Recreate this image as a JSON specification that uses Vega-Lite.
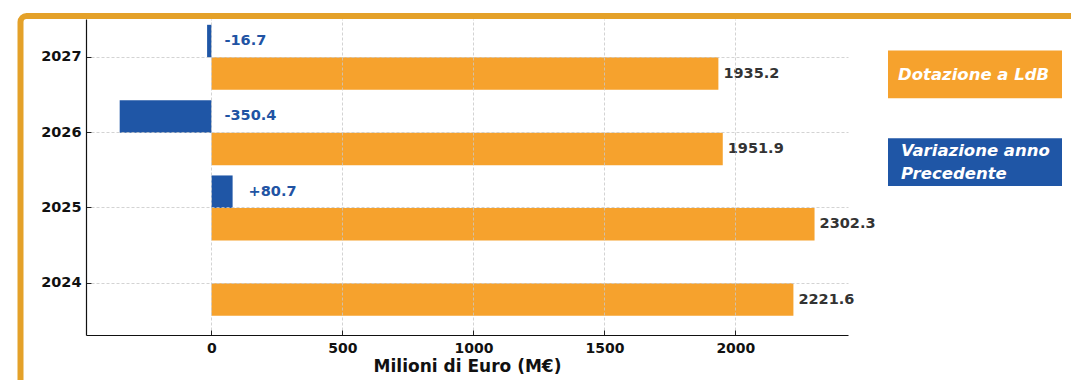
{
  "$schema": "https://vega.github.io/schema/vega-lite/v6.json",
  "autosize": {"type": "pad"},
  "padding": {"left": 17, "top": 13, "right": 0, "bottom": 0},
  "background": "white",
  "bounds": "flush",
  "spacing": 40,
  "config": {"view": {"stroke": null}, "font": "DejaVu Sans"},
  "datasets": {
    "barre": [
      {"anno": "2024", "serie": "Dotazione a LdB", "valore": 2221.6, "etichetta": "2221.6"},
      {"anno": "2025", "serie": "Dotazione a LdB", "valore": 2302.3, "etichetta": "2302.3"},
      {"anno": "2026", "serie": "Dotazione a LdB", "valore": 1951.9, "etichetta": "1951.9"},
      {"anno": "2027", "serie": "Dotazione a LdB", "valore": 1935.2, "etichetta": "1935.2"},
      {"anno": "2025", "serie": "Variazione anno Precedente", "valore": 80.7, "etichetta": "+80.7"},
      {"anno": "2026", "serie": "Variazione anno Precedente", "valore": -350.4, "etichetta": "-350.4"},
      {"anno": "2027", "serie": "Variazione anno Precedente", "valore": -16.7, "etichetta": "-16.7"}
    ],
    "legenda": [
      {"serie": "Dotazione a LdB", "testo": ["Dotazione a LdB"]},
      {"serie": "Variazione anno Precedente", "testo": ["Variazione anno", "Precedente"]}
    ],
    "cornice": [{"nome": "cornice"}]
  },
  "hconcat": [
    {
      "width": 762,
      "height": 316,
      "layer": [
        {
          "data": {"name": "barre"},
          "mark": {"type": "bar"},
          "encoding": {
            "y": {
              "field": "anno", "type": "ordinal", "sort": "descending",
              "scale": {"paddingInner": 0.137, "paddingOuter": 0.166, "align": 0.232},
              "axis": {
                "title": null, "bandPosition": 0.5, "zindex": 1,
                "labelFont": "DejaVu Sans", "labelFontWeight": "bold", "labelFontSize": 14.5, "labelColor": "#111111",
                "tickColor": "#222222", "tickSize": -5, "tickWidth": 1, "labelPadding": 10,
                "domainColor": "#111111", "domainWidth": 1.2,
                "grid": true, "gridColor": "#c8c8c8", "gridDash": [3, 2], "gridWidth": 0.8
              }
            },
            "yOffset": {
              "field": "serie", "type": "nominal",
              "sort": ["Variazione anno Precedente", "Dotazione a LdB"],
              "scale": {"paddingInner": 0, "paddingOuter": 0}
            },
            "x": {
              "field": "valore", "type": "quantitative",
              "scale": {"domain": [-479, 2430], "nice": false, "zero": false},
              "axis": {
                "title": "Milioni di Euro (M€)", "titleFont": "DejaVu Sans", "titleFontSize": 17, "titleFontWeight": "bold",
                "titleColor": "#111111", "titlePadding": 3, "zindex": 1,
                "values": [0, 500, 1000, 1500, 2000], "format": "d",
                "labelFont": "DejaVu Sans", "labelFontSize": 14, "labelFontWeight": "bold", "labelColor": "#111111",
                "labelFlush": false, "labelPadding": 11,
                "tickColor": "#222222", "tickSize": -5, "tickWidth": 1,
                "domainColor": "#111111", "domainWidth": 1.2,
                "grid": true, "gridColor": "#c8c8c8", "gridDash": [3, 2], "gridWidth": 0.8
              }
            },
            "color": {
              "field": "serie", "type": "nominal",
              "scale": {"domain": ["Dotazione a LdB", "Variazione anno Precedente"], "range": ["#F6A22D", "#1F56A6"]},
              "legend": null
            }
          }
        },
        {
          "data": {"name": "barre"},
          "transform": [{"filter": "datum.serie === 'Dotazione a LdB'"}],
          "mark": {"type": "text", "align": "left", "baseline": "middle", "dx": 5, "font": "DejaVu Sans", "fontWeight": "bold", "fontSize": 14.5, "fill": "#333333"},
          "encoding": {
            "y": {"field": "anno", "type": "ordinal", "sort": "descending"},
            "yOffset": {"field": "serie", "type": "nominal", "sort": ["Variazione anno Precedente", "Dotazione a LdB"]},
            "x": {"field": "valore", "type": "quantitative"},
            "text": {"field": "etichetta"}
          }
        },
        {
          "data": {"name": "barre"},
          "transform": [{"filter": "datum.serie === 'Variazione anno Precedente' && datum.valore >= 0"}],
          "mark": {"type": "text", "align": "left", "baseline": "middle", "dx": 16, "font": "DejaVu Sans", "fontWeight": "bold", "fontSize": 14.5, "fill": "#2153A3"},
          "encoding": {
            "y": {"field": "anno", "type": "ordinal", "sort": "descending"},
            "yOffset": {"field": "serie", "type": "nominal", "sort": ["Variazione anno Precedente", "Dotazione a LdB"]},
            "x": {"field": "valore", "type": "quantitative"},
            "text": {"field": "etichetta"}
          }
        },
        {
          "data": {"name": "barre"},
          "transform": [{"filter": "datum.serie === 'Variazione anno Precedente' && datum.valore < 0"}],
          "mark": {"type": "text", "align": "left", "baseline": "middle", "dx": 13, "font": "DejaVu Sans", "fontWeight": "bold", "fontSize": 14.5, "fill": "#2153A3"},
          "encoding": {
            "y": {"field": "anno", "type": "ordinal", "sort": "descending"},
            "yOffset": {"field": "serie", "type": "nominal", "sort": ["Variazione anno Precedente", "Dotazione a LdB"]},
            "x": {"datum": 0, "type": "quantitative"},
            "text": {"field": "etichetta"}
          }
        },
        {
          "data": {"name": "cornice"},
          "mark": {"type": "rect", "fill": null, "stroke": "#E4A129", "strokeWidth": 6, "cornerRadius": 6, "clip": false},
          "encoding": {
            "x": {"value": -65.5},
            "x2": {"value": 1010},
            "y": {"value": -3},
            "y2": {"value": 420}
          }
        }
      ]
    },
    {
      "width": 174,
      "height": 167,
      "data": {"name": "legenda"},
      "encoding": {
        "y": {
          "field": "serie", "type": "nominal",
          "sort": ["Dotazione a LdB", "Variazione anno Precedente"],
          "axis": null,
          "scale": {"paddingInner": 0.456, "paddingOuter": 0.18, "align": 1}
        }
      },
      "layer": [
        {
          "mark": {"type": "bar"},
          "encoding": {
            "color": {
              "field": "serie", "type": "nominal",
              "scale": {"domain": ["Dotazione a LdB", "Variazione anno Precedente"], "range": ["#F6A22D", "#1F56A6"]},
              "legend": null
            }
          }
        },
        {
          "transform": [{"filter": "datum.serie === 'Dotazione a LdB'"}],
          "mark": {"type": "text", "align": "left", "baseline": "middle", "dx": -77, "dy": 1, "font": "DejaVu Sans", "fontStyle": "italic", "fontWeight": "bold", "fontSize": 16.5, "lineHeight": 22.5, "fill": "white"},
          "encoding": {"text": {"field": "testo"}}
        },
        {
          "transform": [{"filter": "datum.serie !== 'Dotazione a LdB'"}],
          "mark": {"type": "text", "align": "left", "baseline": "middle", "dx": -74, "dy": -11, "font": "DejaVu Sans", "fontStyle": "italic", "fontWeight": "bold", "fontSize": 16.5, "lineHeight": 22.5, "fill": "white"},
          "encoding": {"text": {"field": "testo"}}
        }
      ]
    }
  ]
}
